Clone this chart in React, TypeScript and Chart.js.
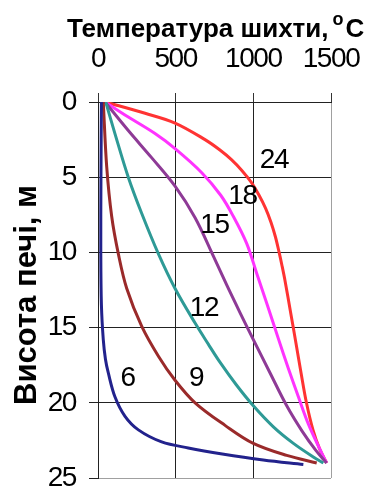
import React, { useEffect, useRef } from "react";
import { Chart, registerables } from "chart.js";
Chart.register(...registerables);

const FONT = "'Liberation Sans', Arial, sans-serif";

const xTicks = [0, 500, 1000, 1500];
const yTicks = [0, 5, 10, 15, 20, 25];

const seriesNames = ["6", "9", "12", "15", "18", "24"];
const seriesColors = ["#22228C", "#9A2A2A", "#2E9A96", "#8E3A96", "#FF33FF", "#FF3333"];

const t6 = [22, 19, 18, 22, 34, 48, 66, 109, 174, 260, 410, 581, 800, 1064, 1322];
const h6 = [0, 5, 10, 13.5, 15.8, 17.1, 18, 19.6, 20.9, 21.8, 22.6, 23, 23.4, 23.8, 24.1];

const t9 = [34, 56, 88, 131, 185, 281, 389, 496, 625, 818, 1000, 1215, 1408];
const h9 = [0, 4.3, 7.6, 10.1, 12.4, 14.9, 16.9, 18.5, 20, 21.5, 22.7, 23.5, 24];

const t12 = [50, 109, 195, 281, 389, 496, 625, 710, 785, 890, 1000, 1129, 1258, 1386, 1451];
const h12 = [0, 2.1, 5, 7.4, 10.1, 12.4, 14.7, 16.1, 17.3, 18.8, 20.2, 21.6, 22.7, 23.6, 24];

const t15 = [45, 195, 345, 496, 625, 745, 830, 914, 1000, 1107, 1215, 1315, 1405, 1472];
const h15 = [0, 1.9, 3.7, 5.6, 7.7, 10.3, 12.2, 14, 15.8, 18, 20.2, 21.9, 23.2, 24];

const t18 = [45, 195, 367, 496, 668, 790, 871, 957, 1022, 1090, 1160, 1225, 1290, 1354, 1429, 1472];
const h18 = [0, 1, 2.1, 3.1, 4.7, 6.2, 7.6, 9.4, 11.4, 13.5, 15.7, 17.7, 19.6, 21.4, 23.1, 24];

const t24 = [45, 303, 496, 689, 785, 859, 926, 986, 1036, 1079, 1114, 1142, 1165, 1185, 1204, 1240, 1274, 1307, 1342, 1384, 1428, 1472];
const h24 = [0, 0.75, 1.4, 2.5, 3.19, 3.83, 4.55, 5.33, 6.18, 7.07, 8.01, 8.96, 9.95, 10.9, 11.88, 14, 16, 18, 20, 21.8, 23.1, 24];

const seriesT = [t6, t9, t12, t15, t18, t24];
const seriesH = [h6, h9, h12, h15, h18, h24];

const labelT = [190, 631, 682, 750, 930, 1133];
const labelH = [18.4, 18.4, 13.7, 8.2, 6.25, 3.86];

const xTitle = "Температура шихти,";
const xTitleSup = "o";
const xTitleUnit = "C";
const yTitle = "Висота печі, м";

const textPlugin = {
  id: "texts",
  beforeDraw(chart: any) {
    chart.ctx.letterSpacing = "-1.4px";
  },
  afterDraw(chart: any) {
    const ctx = chart.ctx;
    const xs = chart.scales.x;
    const ys = chart.scales.y;
    ctx.save();
    ctx.fillStyle = "#000";
    ctx.letterSpacing = "-1.4px";
    ctx.font = `28px ${FONT}`;
    ctx.textAlign = "center";
    ctx.textBaseline = "middle";
    seriesNames.forEach((n, i) => {
      ctx.fillText(n, xs.getPixelForValue(labelT[i]), ys.getPixelForValue(labelH[i]));
    });
    ctx.letterSpacing = "0px";
    ctx.textAlign = "left";
    ctx.textBaseline = "alphabetic";
    ctx.font = `bold 26px ${FONT}`;
    let x = 67;
    ctx.fillText(xTitle, x, 37);
    x += ctx.measureText(xTitle).width + 4;
    ctx.font = `bold 18px ${FONT}`;
    ctx.fillText(xTitleSup, x, 25);
    x += ctx.measureText(xTitleSup).width + 2;
    ctx.font = `bold 26px ${FONT}`;
    ctx.fillText(xTitleUnit, x, 37);
    ctx.translate(27, 295);
    ctx.rotate(-Math.PI / 2);
    ctx.font = `bold 31px ${FONT}`;
    ctx.textAlign = "center";
    ctx.textBaseline = "middle";
    ctx.fillText(yTitle, 0, 0);
    ctx.restore();
    ctx.letterSpacing = "0px";
  },
};

export default function App() {
  const ref = useRef<HTMLCanvasElement | null>(null);
  useEffect(() => {
    if (!ref.current) return;
    const datasets = seriesNames.map((name, i) => ({
      label: name,
      data: seriesT[i].map((t, j) => ({ x: t, y: seriesH[i][j] })),
      borderColor: seriesColors[i],
      backgroundColor: seriesColors[i],
      borderWidth: 3,
      pointRadius: 0,
      showLine: true,
      tension: 0.35,
      fill: false,
    }));
    const chart = new Chart(ref.current, {
      type: "scatter",
      data: { datasets },
      options: {
        responsive: false,
        animation: false,
        layout: { padding: { top: 0, right: 35, bottom: 12, left: 0 } },
        plugins: {
          legend: { display: false },
          tooltip: { enabled: false },
          title: { display: false },
        },
        scales: {
          x: {
            type: "linear",
            position: "top",
            min: 0,
            max: 1500,
            afterBuildTicks: (s: any) => {
              s.ticks = xTicks.map((v) => ({ value: v }));
            },
            afterFit: (s: any) => {
              s.height = 102;
              s.paddingLeft = 0;
              s.paddingRight = 0;
              s.paddingTop = 0;
              s.paddingBottom = 0;
            },
            ticks: {
              font: { size: 28, family: FONT },
              color: "#000",
              padding: 17,
              maxRotation: 0,
              autoSkip: false,
              callback: (v: any) => String(v),
            },
            grid: {
              color: (c: any) => (c.tick && c.tick.value === 1500 ? "#a0a0a0" : "#222"),
              tickColor: "#333",
              tickLength: 9,
              lineWidth: 1,
            },
            border: { color: "#222", width: 1 },
          },
          y: {
            type: "linear",
            reverse: true,
            min: 0,
            max: 25,
            afterBuildTicks: (s: any) => {
              s.ticks = yTicks.map((v) => ({ value: v }));
            },
            afterFit: (s: any) => {
              s.width = 98;
              s.paddingLeft = 0;
              s.paddingRight = 0;
              s.paddingTop = 0;
              s.paddingBottom = 0;
            },
            ticks: {
              font: { size: 28, family: FONT },
              color: "#000",
              padding: 13,
              autoSkip: false,
              callback: (v: any) => String(v),
            },
            grid: {
              color: (c: any) => (c.tick && c.tick.value === 25 ? "#a0a0a0" : "#222"),
              tickColor: "#222",
              tickLength: 9,
              lineWidth: 1,
            },
            border: { color: "#222", width: 1 },
          },
        },
      } as any,
      plugins: [textPlugin],
    });
    return () => chart.destroy();
  }, []);
  return (
    <div style={{ position: "fixed", left: 0, top: 0, width: 366, height: 490 }}>
      <canvas ref={ref} width={366} height={490} style={{ display: "block" }} />
    </div>
  );
}
